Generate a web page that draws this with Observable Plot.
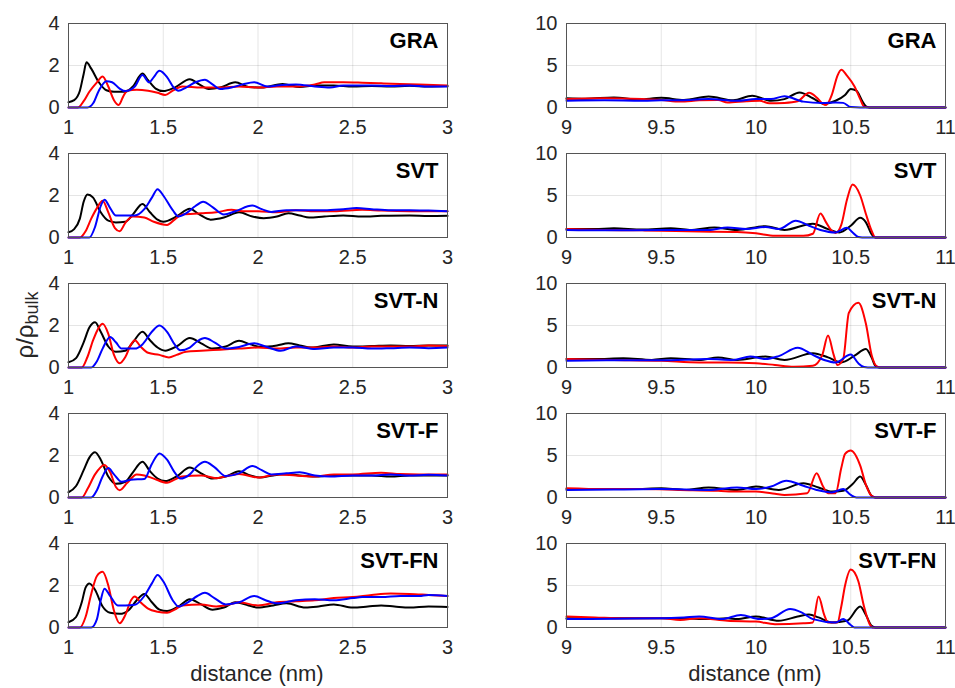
<!DOCTYPE html>
<html>
<head>
<meta charset="utf-8">
<script src="https://cdn.jsdelivr.net/npm/d3@7"></script>
<script src="https://cdn.jsdelivr.net/npm/@observablehq/plot@0.6"></script>
<style>
  html, body { margin: 0; padding: 0; background: #fff; }
  #wrap { position: relative; width: 955px; height: 688px; overflow: hidden; font-family: "Liberation Sans", Arial, Helvetica, sans-serif; color: #262626; }
  .pnl { position: absolute; }
  .lbl { position: absolute; white-space: nowrap; transform: translate(-50%, -50%); }
</style>
</head>
<body>
<div id="wrap"></div>
<script>
// ---------- data ----------
const panelNames = ["GRA", "SVT", "SVT-N", "SVT-F", "SVT-FN"];
const seriesNames = ["black", "red", "blue"];
const seriesColors = ["#111111", "#e3191b", "#1c1ce0"];
const leftXTicks = [1, 1.5, 2, 2.5, 3];
const rightXTicks = [9, 9.5, 10, 10.5, 11];
const leftYTicks = [0, 2, 4];
const rightYTicks = [0, 5, 10];
const xLabel = "distance (nm)";

// left column (distance 1–3 nm)
const graLeftBlack = [[1,0.25],[1.03,0.35],[1.06,0.8],[1.08,1.6],[1.095,2.15],[1.12,1.85],[1.16,1.2],[1.2,0.82],[1.24,0.75],[1.3,0.75],[1.34,1.0],[1.39,1.62],[1.42,1.3],[1.46,0.9],[1.5,0.78],[1.56,0.95],[1.64,1.35],[1.69,1.1],[1.74,0.88],[1.8,0.95],[1.88,1.2],[1.95,0.98],[2.02,0.95],[2.13,1.12],[2.22,0.98],[2.3,1.05],[2.4,1.05],[2.5,1.0],[2.6,1.02],[2.7,1.0],[2.8,1.03],[2.9,1.0],[3,1.02]];
const graLeftRed = [[1,0],[1.05,0],[1.08,0.3],[1.11,0.75],[1.15,1.2],[1.18,1.48],[1.21,1.0],[1.24,0.35],[1.265,0.12],[1.29,0.55],[1.31,0.8],[1.36,0.85],[1.42,0.8],[1.47,0.7],[1.51,0.6],[1.55,0.8],[1.6,1.0],[1.7,0.95],[1.8,0.95],[1.9,1.0],[2.0,0.95],[2.1,1.0],[2.2,1.0],[2.3,1.1],[2.35,1.2],[2.45,1.2],[2.55,1.18],[2.65,1.15],[2.75,1.12],[2.85,1.1],[3,1.05]];
const graLeftBlue = [[1,0],[1.1,0],[1.13,0.2],[1.16,0.8],[1.2,1.25],[1.23,1.2],[1.27,0.9],[1.3,0.78],[1.35,1.0],[1.39,1.55],[1.425,1.2],[1.45,1.45],[1.48,1.75],[1.52,1.45],[1.555,0.95],[1.58,0.8],[1.62,0.95],[1.67,1.2],[1.72,1.32],[1.76,1.1],[1.8,0.88],[1.86,0.95],[1.92,1.1],[1.98,1.2],[2.05,1.0],[2.1,1.05],[2.2,1.1],[2.3,1.0],[2.38,0.95],[2.45,1.05],[2.6,1.05],[2.7,1.02],[2.8,1.05],[2.9,1.0],[3,1.0]];

const svtLeftBlack = [[1,0.25],[1.03,0.4],[1.06,0.9],[1.08,1.7],[1.1,2.05],[1.13,1.9],[1.17,1.2],[1.21,0.8],[1.25,0.72],[1.3,0.75],[1.34,1.1],[1.39,1.6],[1.43,1.2],[1.47,0.85],[1.5,0.75],[1.57,1.0],[1.64,1.37],[1.69,1.1],[1.75,0.85],[1.82,0.95],[1.9,1.2],[1.97,1.0],[2.03,0.92],[2.1,1.0],[2.16,1.15],[2.22,1.05],[2.27,0.95],[2.35,1.0],[2.45,1.05],[2.55,1.0],[2.65,1.03],[2.8,1.05],[2.9,1.02],[3,1.03]];
const svtLeftRed = [[1,0],[1.06,0],[1.09,0.3],[1.12,0.9],[1.15,1.4],[1.18,1.75],[1.21,1.2],[1.245,0.45],[1.27,0.3],[1.3,0.7],[1.34,1.0],[1.4,0.95],[1.45,0.75],[1.52,0.6],[1.56,0.85],[1.6,1.1],[1.7,1.15],[1.78,1.2],[1.86,1.32],[1.92,1.25],[2.0,1.25],[2.1,1.2],[2.2,1.3],[2.3,1.25],[2.4,1.25],[2.55,1.32],[2.65,1.28],[2.8,1.25],[2.9,1.25],[3,1.25]];
const svtLeftBlue = [[1,0],[1.11,0],[1.14,0.5],[1.17,1.5],[1.19,1.8],[1.22,1.4],[1.25,1.05],[1.3,1.05],[1.35,1.05],[1.4,1.35],[1.44,1.9],[1.47,2.3],[1.5,2.0],[1.55,1.3],[1.58,1.0],[1.62,1.15],[1.67,1.5],[1.71,1.7],[1.76,1.45],[1.82,1.1],[1.88,1.25],[1.97,1.52],[2.02,1.35],[2.07,1.22],[2.15,1.3],[2.25,1.3],[2.35,1.3],[2.45,1.35],[2.52,1.4],[2.6,1.35],[2.7,1.3],[2.8,1.3],[2.9,1.28],[3,1.25]];

const svtnLeftBlack = [[1,0.25],[1.04,0.45],[1.08,1.2],[1.11,1.9],[1.14,2.15],[1.17,1.7],[1.21,1.0],[1.25,0.75],[1.3,0.8],[1.34,1.2],[1.39,1.7],[1.43,1.3],[1.47,0.95],[1.51,0.8],[1.57,1.0],[1.64,1.4],[1.7,1.15],[1.76,0.9],[1.83,1.0],[1.9,1.27],[1.96,1.1],[2.02,0.98],[2.1,1.05],[2.16,1.15],[2.22,1.05],[2.28,0.95],[2.4,1.1],[2.5,1.0],[2.6,1.02],[2.7,1.05],[2.8,1.02],[2.9,1.05],[3,1.05]];
const svtnLeftRed = [[1,0],[1.07,0],[1.1,0.5],[1.13,1.3],[1.16,1.9],[1.18,2.08],[1.21,1.6],[1.24,0.6],[1.27,0.2],[1.3,0.5],[1.33,1.1],[1.35,1.3],[1.38,1.0],[1.42,0.7],[1.48,0.6],[1.53,0.48],[1.57,0.6],[1.62,0.75],[1.7,0.8],[1.8,0.85],[1.9,0.9],[2.0,0.95],[2.1,0.9],[2.2,0.95],[2.3,0.95],[2.4,1.0],[2.5,0.95],[2.6,1.0],[2.7,1.0],[2.8,1.0],[2.9,1.05],[3,1.02]];
const svtnLeftBlue = [[1,0],[1.12,0],[1.15,0.3],[1.18,0.9],[1.22,1.45],[1.25,1.2],[1.28,0.9],[1.35,0.9],[1.39,1.1],[1.44,1.7],[1.48,2.0],[1.52,1.7],[1.56,1.1],[1.59,0.82],[1.64,0.95],[1.68,1.25],[1.72,1.4],[1.77,1.2],[1.83,0.9],[1.9,0.98],[1.98,1.15],[2.04,1.0],[2.12,0.8],[2.2,1.0],[2.3,0.88],[2.4,0.95],[2.5,0.95],[2.6,0.9],[2.7,0.92],[2.8,0.95],[2.9,0.92],[3,0.95]];

const svtfLeftBlack = [[1,0.25],[1.04,0.55],[1.08,1.3],[1.11,1.9],[1.14,2.15],[1.17,1.8],[1.21,1.0],[1.25,0.65],[1.3,0.75],[1.34,1.2],[1.39,1.7],[1.43,1.25],[1.47,0.9],[1.51,0.78],[1.57,1.0],[1.64,1.43],[1.7,1.15],[1.76,0.9],[1.83,1.0],[1.9,1.25],[1.96,1.05],[2.01,0.95],[2.08,1.05],[2.15,1.12],[2.22,1.05],[2.3,1.0],[2.4,1.05],[2.5,1.05],[2.6,1.05],[2.7,1.0],[2.8,1.05],[2.9,1.05],[3,1.05]];
const svtfLeftRed = [[1,0],[1.07,0],[1.1,0.4],[1.14,1.1],[1.19,1.55],[1.22,1.2],[1.25,0.5],[1.27,0.35],[1.31,0.7],[1.36,1.1],[1.4,1.05],[1.45,0.9],[1.52,0.7],[1.56,0.85],[1.6,1.0],[1.7,1.05],[1.78,0.92],[1.85,1.05],[1.9,1.12],[2.0,0.95],[2.1,1.1],[2.2,1.05],[2.3,1.0],[2.4,1.1],[2.5,1.1],[2.65,1.18],[2.75,1.12],[2.85,1.1],[3,1.1]];
const svtfLeftBlue = [[1,0],[1.12,0],[1.15,0.35],[1.18,1.0],[1.21,1.4],[1.24,1.1],[1.28,0.75],[1.33,0.85],[1.4,0.88],[1.44,1.6],[1.48,2.1],[1.52,1.8],[1.56,1.2],[1.59,0.9],[1.64,1.1],[1.68,1.5],[1.72,1.7],[1.77,1.45],[1.83,1.02],[1.9,1.15],[1.97,1.5],[2.02,1.3],[2.07,1.1],[2.15,1.15],[2.22,1.2],[2.3,1.05],[2.38,1.0],[2.5,1.05],[2.6,1.05],[2.7,1.1],[2.8,1.05],[2.9,1.08],[3,1.05]];

const svtfnLeftBlack = [[1,0.25],[1.04,0.5],[1.07,1.2],[1.09,1.9],[1.11,2.1],[1.14,1.8],[1.18,1.0],[1.22,0.7],[1.27,0.65],[1.32,0.85],[1.36,1.3],[1.4,1.6],[1.44,1.2],[1.48,0.85],[1.52,0.78],[1.58,1.0],[1.64,1.35],[1.7,1.1],[1.76,0.85],[1.82,0.95],[1.88,1.2],[1.95,1.05],[2.0,0.95],[2.08,1.05],[2.15,1.15],[2.25,0.95],[2.32,1.0],[2.4,1.1],[2.5,0.95],[2.58,1.0],[2.65,1.05],[2.72,1.0],[2.8,0.95],[2.9,1.0],[3,0.98]];
const svtfnLeftRed = [[1,0],[1.06,0],[1.09,0.5],[1.12,1.6],[1.15,2.45],[1.18,2.65],[1.21,2.0],[1.24,0.8],[1.27,0.2],[1.3,0.6],[1.33,1.3],[1.35,1.48],[1.38,1.2],[1.42,0.9],[1.47,0.75],[1.52,0.7],[1.56,0.85],[1.6,1.05],[1.7,1.1],[1.78,1.0],[1.85,1.1],[1.9,1.2],[2.0,1.05],[2.1,1.2],[2.2,1.25],[2.3,1.3],[2.4,1.4],[2.5,1.45],[2.6,1.55],[2.7,1.62],[2.8,1.6],[2.9,1.55],[3,1.5]];
const svtfnLeftBlue = [[1,0],[1.12,0],[1.15,0.4],[1.17,1.3],[1.19,1.85],[1.22,1.5],[1.26,1.05],[1.3,1.05],[1.35,1.08],[1.4,1.5],[1.44,2.1],[1.47,2.5],[1.5,2.2],[1.55,1.3],[1.58,1.0],[1.63,1.2],[1.68,1.5],[1.72,1.65],[1.77,1.4],[1.83,1.1],[1.9,1.2],[1.98,1.5],[2.04,1.3],[2.1,1.15],[2.2,1.3],[2.3,1.35],[2.4,1.3],[2.5,1.4],[2.55,1.45],[2.65,1.45],[2.75,1.5],[2.85,1.5],[2.9,1.55],[3,1.5]];

// right column (distance 9–11 nm)
const graRightBlack = [[9,1.1],[9.1,1.05],[9.25,1.2],[9.38,0.95],[9.5,1.15],[9.62,0.9],[9.75,1.3],[9.88,0.85],[9.98,1.4],[10.08,0.8],[10.15,1.0],[10.23,1.8],[10.3,1.1],[10.36,0.45],[10.42,0.8],[10.47,1.5],[10.5,2.2],[10.53,2.0],[10.56,0.8],[10.58,0.15],[10.6,0],[11,0]];
const graRightRed = [[9,1.0],[9.2,1.1],[9.4,1.0],[9.5,0.9],[9.6,0.7],[9.7,0.85],[9.8,0.9],[9.85,0.6],[9.95,0.75],[10.02,0.8],[10.07,0.5],[10.15,0.55],[10.22,0.75],[10.28,1.75],[10.32,1.2],[10.35,0.5],[10.37,0.3],[10.4,1.5],[10.43,3.8],[10.45,4.5],[10.48,3.8],[10.52,2.5],[10.55,1.0],[10.57,0.1],[10.6,0],[11,0]];
const graRightBlue = [[9,0.8],[9.2,0.85],[9.4,0.8],[9.5,0.85],[9.65,0.9],[9.75,1.0],[9.9,0.8],[10.0,1.0],[10.08,1.0],[10.15,1.35],[10.25,0.7],[10.35,0.55],[10.42,0.6],[10.46,0.55],[10.5,0.05],[10.55,0],[11,0]];

const svtRightBlack = [[9,1.0],[9.15,1.0],[9.25,1.1],[9.4,0.95],[9.55,1.1],[9.65,0.9],[9.78,1.2],[9.9,0.9],[10.05,1.35],[10.15,0.9],[10.3,1.65],[10.38,1.0],[10.44,0.6],[10.5,1.4],[10.55,2.35],[10.58,1.8],[10.61,0.4],[10.63,0],[11,0]];
const svtRightRed = [[9,1.0],[9.2,0.9],[9.4,0.85],[9.5,0.8],[9.7,0.7],[9.9,0.65],[10.0,0.5],[10.1,0.2],[10.25,0.2],[10.3,0.45],[10.34,2.85],[10.37,1.8],[10.4,0.8],[10.42,0.55],[10.45,1.5],[10.48,4.5],[10.51,6.3],[10.55,5.0],[10.58,2.8],[10.61,0.8],[10.63,0],[11,0]];
const svtRightBlue = [[9,0.9],[9.2,0.85],[9.5,0.9],[9.75,0.9],[9.85,1.2],[9.95,1.0],[10.05,1.25],[10.12,1.0],[10.21,2.0],[10.28,1.4],[10.34,0.9],[10.42,0.6],[10.48,1.15],[10.51,0.6],[10.54,0.05],[10.56,0],[11,0]];

const svtnRightBlack = [[9,1.0],[9.15,1.0],[9.3,1.1],[9.45,0.9],[9.55,1.1],[9.7,0.9],[9.8,1.2],[9.9,0.9],[10.05,1.3],[10.15,0.9],[10.3,1.7],[10.38,1.2],[10.45,0.6],[10.52,1.4],[10.58,2.2],[10.61,1.2],[10.63,0.2],[10.65,0],[11,0]];
const svtnRightRed = [[9,1.0],[9.25,0.9],[9.5,0.8],[9.7,0.6],[9.85,0.6],[10.0,0.5],[10.1,0.3],[10.2,0.1],[10.3,0.2],[10.35,1.5],[10.38,3.8],[10.41,1.5],[10.43,0.3],[10.46,1.0],[10.49,6.5],[10.54,7.7],[10.58,5.2],[10.61,1.5],[10.64,0.1],[10.66,0],[11,0]];
const svtnRightBlue = [[9,0.8],[9.25,0.85],[9.5,0.85],[9.75,1.0],[9.88,0.9],[9.97,1.3],[10.05,1.0],[10.12,1.35],[10.22,2.35],[10.3,1.5],[10.36,0.9],[10.42,0.6],[10.5,1.55],[10.54,0.5],[10.57,0.05],[10.59,0],[11,0]];

const svtfRightBlack = [[9,1.0],[9.2,1.0],[9.35,1.0],[9.5,1.1],[9.62,0.9],[9.75,1.2],[9.9,0.9],[10.0,1.3],[10.12,0.9],[10.25,1.7],[10.33,1.2],[10.4,0.7],[10.46,0.8],[10.51,1.6],[10.55,2.5],[10.58,1.5],[10.61,0.2],[10.63,0],[11,0]];
const svtfRightRed = [[9,1.1],[9.2,1.0],[9.4,1.0],[9.6,0.9],[9.8,0.8],[9.9,0.7],[10.0,0.7],[10.1,0.45],[10.15,0.3],[10.27,0.5],[10.32,2.9],[10.35,1.5],[10.38,0.5],[10.42,0.5],[10.45,3.5],[10.47,5.2],[10.5,5.6],[10.55,3.8],[10.58,1.5],[10.61,0.2],[10.63,0],[11,0]];
const svtfRightBlue = [[9,0.9],[9.25,0.95],[9.5,1.0],[9.75,0.9],[9.9,1.2],[10.0,1.0],[10.08,1.3],[10.16,2.0],[10.25,1.4],[10.32,0.9],[10.4,0.6],[10.46,1.0],[10.5,0.3],[10.53,0],[11,0]];

const svtfnRightBlack = [[9,1.1],[9.2,1.1],[9.4,1.1],[9.6,1.1],[9.75,1.0],[9.85,1.1],[9.9,1.0],[10.0,1.3],[10.12,0.8],[10.22,1.3],[10.28,1.55],[10.33,1.2],[10.4,0.6],[10.48,0.8],[10.55,2.5],[10.58,1.5],[10.61,0.2],[10.63,0],[11,0]];
const svtfnRightRed = [[9,1.3],[9.15,1.2],[9.3,1.1],[9.5,1.1],[9.6,0.9],[9.7,1.1],[9.85,0.8],[10.0,0.7],[10.1,0.4],[10.25,0.5],[10.3,0.6],[10.33,3.7],[10.36,1.5],[10.38,0.6],[10.43,0.6],[10.45,2.5],[10.47,5.0],[10.5,6.9],[10.54,5.5],[10.57,2.5],[10.6,0.4],[10.62,0],[11,0]];
const svtfnRightBlue = [[9,1.0],[9.25,1.05],[9.5,1.1],[9.62,1.2],[9.7,1.3],[9.82,1.0],[9.92,1.5],[10.02,1.0],[10.08,1.1],[10.18,2.2],[10.24,1.8],[10.3,1.0],[10.42,0.6],[10.46,1.0],[10.5,0.3],[10.52,0],[11,0]];

// ---------- layout ----------
const leftSeries = [
  [graLeftBlack, graLeftRed, graLeftBlue],
  [svtLeftBlack, svtLeftRed, svtLeftBlue],
  [svtnLeftBlack, svtnLeftRed, svtnLeftBlue],
  [svtfLeftBlack, svtfLeftRed, svtfLeftBlue],
  [svtfnLeftBlack, svtfnLeftRed, svtfnLeftBlue]
];
const rightSeries = [
  [graRightBlack, graRightRed, graRightBlue],
  [svtRightBlack, svtRightRed, svtRightBlue],
  [svtnRightBlack, svtnRightRed, svtnRightBlue],
  [svtfRightBlack, svtfRightRed, svtfRightBlue],
  [svtfnRightBlack, svtfnRightRed, svtfnRightBlue]
];

const FW = 379, FH = 84, ML = 48, MR = 8, MT = 5, MB = 34;
const wrap = document.getElementById("wrap");
const font = '"Liberation Sans", Arial, Helvetica, sans-serif';
const fmt = d => String(d);

function panel(series, xTicks, yTicks, name) {
  const rows = series.flatMap((pts, k) => pts.map(([x, y]) => ({x, y, s: seriesNames[k]})));
  return Plot.plot({
    width: ML + FW + MR,
    height: MT + FH + MB,
    marginLeft: ML, marginRight: MR, marginTop: MT, marginBottom: MB,
    style: {fontFamily: font, fontSize: "20px", color: "#262626", background: "transparent", overflow: "visible"},
    x: {domain: [xTicks[0], xTicks[xTicks.length - 1]]},
    y: {domain: [yTicks[0], yTicks[yTicks.length - 1]]},
    color: {domain: seriesNames, range: seriesColors},
    marks: [
      Plot.gridX(xTicks, {stroke: "#000", strokeOpacity: 0.1}),
      Plot.gridY(yTicks, {stroke: "#000", strokeOpacity: 0.1}),
      Plot.line(rows, {x: "x", y: "y", z: "s", stroke: "s", strokeWidth: 2, curve: "monotone-x"}),
      Plot.frame({stroke: "#555", strokeWidth: 1}),
      Plot.text([name], {text: d => d, frameAnchor: "top-right", dx: -9, dy: 9, lineAnchor: "top", textAnchor: "end", fontWeight: "bold", fontSize: 22, fill: "#000"}),
      Plot.axisX(xTicks, {tickSize: 0, tickPadding: 12, fontSize: 20, label: null, tickFormat: fmt}),
      Plot.axisY(yTicks, {tickSize: 0, tickPadding: 9, fontSize: 20, label: null, tickFormat: fmt})
    ]
  });
}

panelNames.forEach((name, i) => {
  const top = 23 + 130 * i - MT;
  const l = panel(leftSeries[i], leftXTicks, leftYTicks, name);
  l.classList.add("pnl");
  l.style.left = (68 - ML) + "px";
  l.style.top = top + "px";
  wrap.appendChild(l);
  const r = panel(rightSeries[i], rightXTicks, rightYTicks, name);
  r.classList.add("pnl");
  r.style.left = (566 - ML) + "px";
  r.style.top = top + "px";
  wrap.appendChild(r);
});

// axis titles
const yl = document.createElement("div");
yl.className = "lbl";
yl.style.left = "27px";
yl.style.top = "325px";
yl.style.fontSize = "24px";
yl.style.transform = "translate(-50%, -50%) rotate(-90deg)";
yl.innerHTML = "ρ/ρ<sub style=\"font-size:18px\">bulk</sub>";
wrap.appendChild(yl);

[257, 755].forEach(cx => {
  const xl = document.createElement("div");
  xl.className = "lbl";
  xl.style.left = cx + "px";
  xl.style.top = "674px";
  xl.style.fontSize = "22px";
  xl.textContent = xLabel;
  wrap.appendChild(xl);
});
</script>
</body>
</html>
